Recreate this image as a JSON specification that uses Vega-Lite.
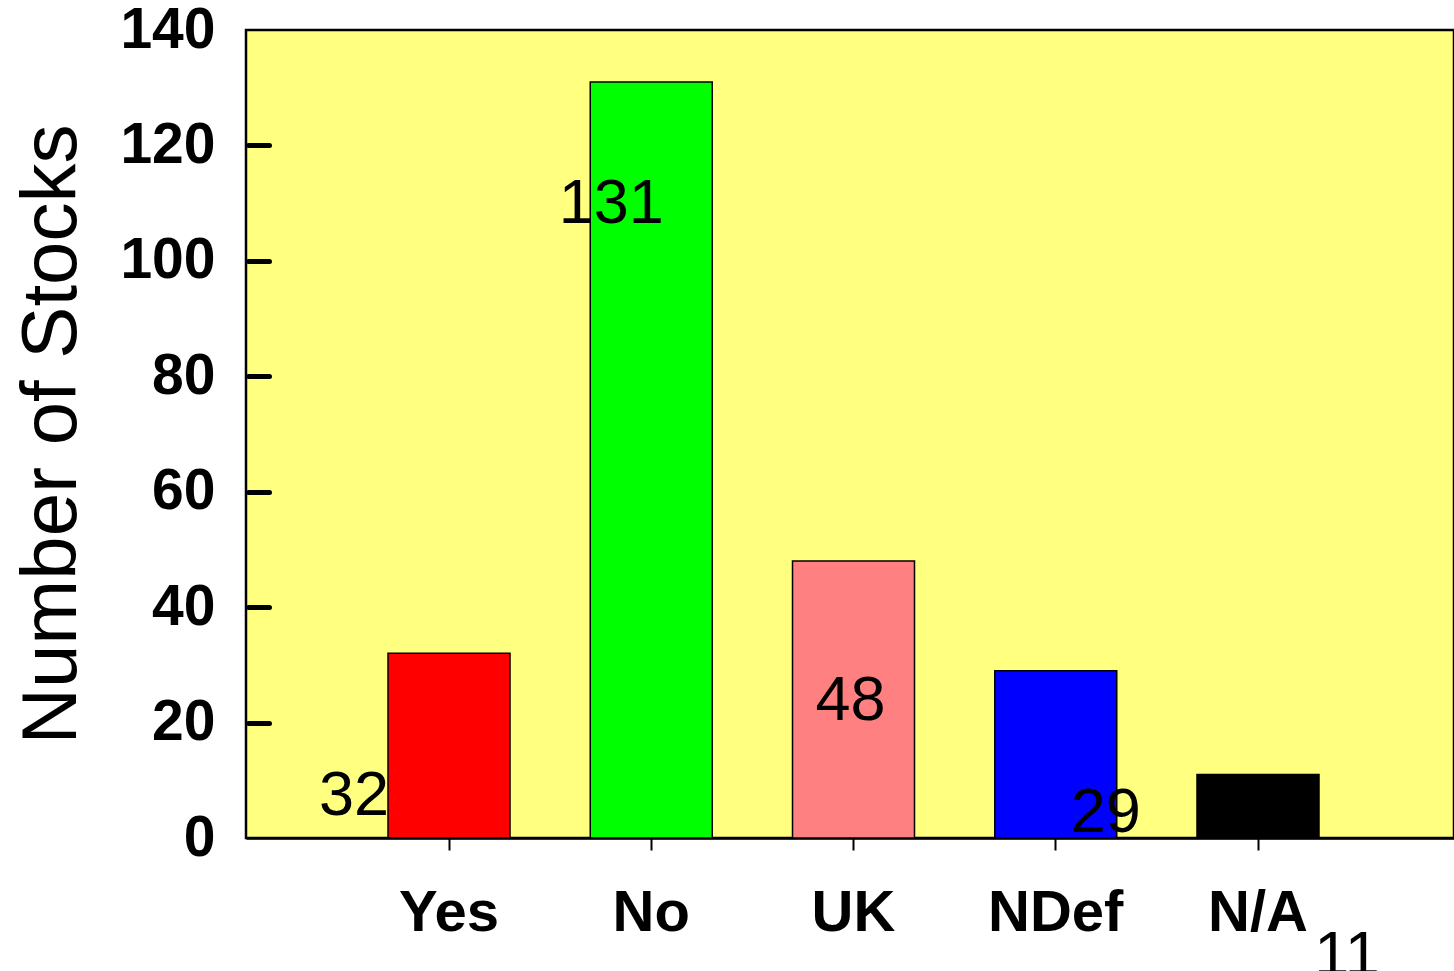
{
  "$schema": "https://vega.github.io/schema/vega-lite/v6.json",
  "width": 1208,
  "height": 808,
  "autosize": {"type": "none"},
  "padding": {"left": 246, "top": 30, "right": 0, "bottom": 133},
  "background": "white",
  "config": {
    "view": {"fill": "#FFFF80", "stroke": "black", "strokeWidth": 2.5},
    "font": "Liberation Sans"
  },
  "data": {
    "values": [
      {"category": "Yes", "count": 32},
      {"category": "No", "count": 131},
      {"category": "UK", "count": 48},
      {"category": "NDef", "count": 29},
      {"category": "N/A", "count": 11}
    ]
  },
  "encoding": {
    "x": {
      "field": "category",
      "type": "nominal",
      "sort": ["Yes", "No", "UK", "NDef", "N/A"],
      "scale": {"paddingInner": 0, "paddingOuter": 0.4864, "align": 0.5178},
      "axis": {
        "title": null,
        "labelAngle": 0,
        "labelFontSize": 58,
        "labelFontWeight": "bold",
        "labelColor": "black",
        "labelBaseline": "alphabetic",
        "labelPadding": 80,
        "tickColor": "black",
        "tickWidth": 2,
        "tickSize": 12,
        "domainColor": "black",
        "domainWidth": 2.5
      }
    },
    "y": {
      "field": "count",
      "type": "quantitative",
      "scale": {"domain": [0, 140], "nice": false},
      "axis": {
        "title": "Number of Stocks",
        "titleFontSize": 78,
        "titleFontWeight": "normal",
        "titleColor": "black",
        "titleX": -194,
        "titleY": 404,
        "titleAngle": -90,
        "titleAlign": "center",
        "titleBaseline": "alphabetic",
        "values": [0, 20, 40, 60, 80, 100, 120, 140],
        "offset": -23,
        "labelFontSize": 57,
        "labelFontWeight": "bold",
        "labelColor": "black",
        "labelPadding": 33,
        "tickSize": 21,
        "tickWidth": 5,
        "tickCap": "round",
        "tickColor": {"expr": "datum.value == 0 || datum.value == 140 ? 'transparent' : '#000000'"},
        "domain": false,
        "grid": false
      }
    }
  },
  "layer": [
    {
      "mark": {"type": "bar", "width": 122, "stroke": "black", "strokeWidth": 1.5},
      "encoding": {
        "color": {
          "field": "category",
          "type": "nominal",
          "scale": {
            "domain": ["Yes", "No", "UK", "NDef", "N/A"],
            "range": ["#FF0000", "#00FF00", "#FF8080", "#0000FF", "#000000"]
          },
          "legend": null
        }
      }
    },
    {
      "transform": [{"filter": "datum.category == 'Yes'"}],
      "mark": {"type": "text", "dx": -95, "dy": 162, "fontSize": 63, "baseline": "alphabetic", "color": "black"},
      "encoding": {"text": {"field": "count", "type": "quantitative"}}
    },
    {
      "transform": [{"filter": "datum.category == 'No'"}],
      "mark": {"type": "text", "dx": -40, "dy": 141, "fontSize": 63, "baseline": "alphabetic", "color": "black"},
      "encoding": {"text": {"field": "count", "type": "quantitative"}}
    },
    {
      "transform": [{"filter": "datum.category == 'UK'"}],
      "mark": {"type": "text", "dx": -3, "dy": 159, "fontSize": 63, "baseline": "alphabetic", "color": "black"},
      "encoding": {"text": {"field": "count", "type": "quantitative"}}
    },
    {
      "transform": [{"filter": "datum.category == 'NDef'"}],
      "mark": {"type": "text", "dx": 50, "dy": 161, "fontSize": 63, "baseline": "alphabetic", "color": "black"},
      "encoding": {"text": {"field": "count", "type": "quantitative"}}
    },
    {
      "transform": [{"filter": "datum.category == 'N/A'"}],
      "mark": {"type": "text", "dx": 89, "dy": 200, "fontSize": 63, "baseline": "alphabetic", "color": "black"},
      "encoding": {"text": {"field": "count", "type": "quantitative"}}
    }
  ]
}
